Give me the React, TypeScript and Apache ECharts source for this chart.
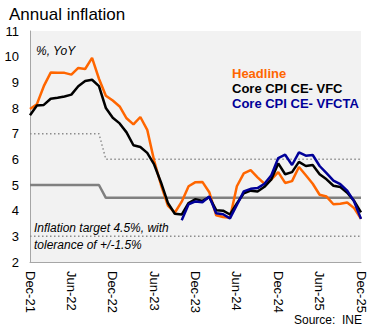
import React, { useEffect, useRef } from "react";
import * as echarts from "echarts";

const months: string[] = [
  "Dec-21", "Jan-22", "Feb-22", "Mar-22", "Apr-22", "May-22", "Jun-22", "Jul-22", "Aug-22", "Sep-22", "Oct-22", "Nov-22",
  "Dec-22", "Jan-23", "Feb-23", "Mar-23", "Apr-23", "May-23", "Jun-23", "Jul-23", "Aug-23", "Sep-23", "Oct-23", "Nov-23",
  "Dec-23", "Jan-24", "Feb-24", "Mar-24", "Apr-24", "May-24", "Jun-24", "Jul-24", "Aug-24", "Sep-24", "Oct-24", "Nov-24",
  "Dec-24", "Jan-25", "Feb-25", "Mar-25", "Apr-25", "May-25", "Jun-25", "Jul-25", "Aug-25", "Sep-25", "Oct-25", "Nov-25",
  "Dec-25",
];

const headline: number[] = [
  7.96, 8.15, 8.85, 9.38, 9.37, 9.37, 9.30, 9.56, 9.52, 9.95, 9.14, 8.48,
  8.29, 8.06, 7.60, 7.36, 7.65, 7.15, 5.95, 5.00, 4.20, 3.92, 4.35, 4.95,
  5.11, 5.12, 4.72, 3.82, 3.75, 3.72, 4.95, 5.45, 5.58, 5.30, 5.05, 5.22,
  5.50, 5.08, 5.15, 5.70, 5.38, 5.05, 4.62, 4.55, 4.25, 4.27, 4.32, 4.10,
  3.68,
];

const coreVFC: number[] = [
  7.72, 8.10, 8.12, 8.36, 8.40, 8.45, 8.52, 8.85, 9.05, 9.10, 8.85, 8.00,
  7.62, 7.40, 7.05, 6.55, 6.48, 6.25, 5.80, 5.10, 4.30, 3.88, 3.85, 4.30,
  4.45, 4.38, 4.53, 4.02, 4.00, 3.85, 4.28, 4.68, 4.78, 4.75, 4.93, 5.22,
  5.84, 5.42, 5.50, 5.90, 5.74, 5.78, 5.42, 5.22, 4.97, 4.92, 4.70, 4.38,
  3.93,
];

const coreVFCTA: (number | null)[] = [
  null, null, null, null, null, null, null, null, null, null, null, null,
  null, null, null, null, null, null, null, null, null, null, 3.63, 4.25,
  4.36, 4.33, 4.55, 3.90, 3.86, 3.70, 4.22, 4.75, 4.85, 4.88, 5.05, 5.38,
  6.05, 6.18, 5.78, 6.27, 6.14, 6.17, 5.74, 5.46, 5.17, 5.03, 4.78, 4.36,
  3.68,
];

const targetUpper: number[] = [
  7, 7, 7, 7, 7, 7, 7, 7, 7, 7, 7, 6,
  6, 6, 6, 6, 6, 6, 6, 6, 6, 6, 6, 6,
  6, 6, 6, 6, 6, 6, 6, 6, 6, 6, 6, 6,
  6, 6, 6, 6, 6, 6, 6, 6, 6, 6, 6, 6,
  6,
];

const targetCenter: number[] = [
  5, 5, 5, 5, 5, 5, 5, 5, 5, 5, 5, 4.5,
  4.5, 4.5, 4.5, 4.5, 4.5, 4.5, 4.5, 4.5, 4.5, 4.5, 4.5, 4.5,
  4.5, 4.5, 4.5, 4.5, 4.5, 4.5, 4.5, 4.5, 4.5, 4.5, 4.5, 4.5,
  4.5, 4.5, 4.5, 4.5, 4.5, 4.5, 4.5, 4.5, 4.5, 4.5, 4.5, 4.5,
  4.5,
];

const targetLower: number[] = [
  3, 3, 3, 3, 3, 3, 3, 3, 3, 3, 3, 3,
  3, 3, 3, 3, 3, 3, 3, 3, 3, 3, 3, 3,
  3, 3, 3, 3, 3, 3, 3, 3, 3, 3, 3, 3,
  3, 3, 3, 3, 3, 3, 3, 3, 3, 3, 3, 3,
  3,
];

const legendItems = [
  { name: "Headline", color: "#FF6600" },
  { name: "Core CPI CE- VFC", color: "#000000" },
  { name: "Core CPI CE- VFCTA", color: "#000099" },
];

const FONT = '"Liberation Sans", Arial, Helvetica, sans-serif';

export default function App() {
  const ref = useRef<HTMLDivElement>(null);

  useEffect(() => {
    document.body.style.margin = "0";
    if (!ref.current) return;
    const chart = echarts.init(ref.current, null, { renderer: "svg" });

    const refLine = (name: string, data: number[], dotted: boolean) => ({
      name,
      type: "line",
      data,
      symbol: "none",
      silent: true,
      z: 1,
      lineStyle: dotted
        ? { color: "#8c8c8c", width: 1.5, type: [1.5, 2.5] }
        : { color: "#808080", width: 2.5, type: "solid" },
    });

    const dataLine = (name: string, data: (number | null)[], color: string, z: number) => ({
      name,
      type: "line",
      data,
      symbol: "none",
      z,
      lineStyle: { color, width: 2.5 },
    });

    chart.setOption({
      animation: false,
      backgroundColor: "#ffffff",
      textStyle: { fontFamily: FONT },
      title: {
        text: "Annual inflation",
        left: 4,
        top: 1,
        textStyle: { fontSize: 17, fontWeight: "normal", color: "#000", fontFamily: FONT },
      },
      grid: {
        left: 30,
        right: 14,
        top: 31,
        bottom: 69,
        show: true,
        backgroundColor: "#f2f2f2",
        borderWidth: 0,
        containLabel: false,
      },
      xAxis: {
        type: "category",
        data: months,
        boundaryGap: false,
        axisLine: { show: true, lineStyle: { color: "#a6a6a6", width: 1 } },
        axisTick: { show: false },
        splitLine: { show: false },
        axisLabel: {
          interval: 5,
          rotate: -90,
          margin: 9,
          fontSize: 13,
          color: "#000",
          fontFamily: FONT,
        },
      },
      yAxis: {
        type: "value",
        min: 2,
        max: 11,
        interval: 1,
        axisLine: { show: true, lineStyle: { color: "#a6a6a6", width: 1 } },
        axisTick: { show: false },
        splitLine: { show: false },
        axisLabel: { fontSize: 13, color: "#000", margin: 11, fontFamily: FONT },
      },
      series: [
        refLine("Upper tolerance", targetUpper, true),
        refLine("Lower tolerance", targetLower, true),
        refLine("Target", targetCenter, false),
        dataLine(legendItems[0].name, headline, legendItems[0].color, 3),
        dataLine(legendItems[1].name, coreVFC, legendItems[1].color, 4),
        dataLine(legendItems[2].name, coreVFCTA, legendItems[2].color, 5),
      ],
      graphic: [
        {
          type: "text",
          x: 36,
          y: 51,
          style: {
            text: "%, YoY",
            fill: "#000",
            fontSize: 12,
            fontStyle: "italic",
            fontFamily: FONT,
            textVerticalAlign: "middle",
            verticalAlign: "middle",
          },
        },
        ...legendItems.map((it, i) => ({
          type: "text",
          x: 232,
          y: 73 + i * 15,
          style: {
            text: it.name,
            fill: it.color,
            fontSize: 13,
            fontWeight: "bold",
            fontFamily: FONT,
            textVerticalAlign: "middle",
            verticalAlign: "middle",
          },
        })),
        {
          type: "text",
          x: 34,
          y: 228,
          style: {
            text: "Inflation target 4.5%, with",
            fill: "#000",
            fontSize: 12,
            fontStyle: "italic",
            fontFamily: FONT,
            textVerticalAlign: "middle",
            verticalAlign: "middle",
          },
        },
        {
          type: "text",
          x: 34,
          y: 245,
          style: {
            text: "tolerance of +/-1.5%",
            fill: "#000",
            fontSize: 12,
            fontStyle: "italic",
            fontFamily: FONT,
            textVerticalAlign: "middle",
            verticalAlign: "middle",
          },
        },
        {
          type: "text",
          x: 362,
          y: 320,
          style: {
            text: "Source:  INE",
            fill: "#000",
            fontSize: 12,
            fontFamily: FONT,
            textAlign: "right",
            align: "right",
            textVerticalAlign: "middle",
            verticalAlign: "middle",
          },
        },
      ],
    });

    return () => {
      chart.dispose();
    };
  }, []);

  return <div ref={ref} style={{ width: 375, height: 331 }} />;
}
